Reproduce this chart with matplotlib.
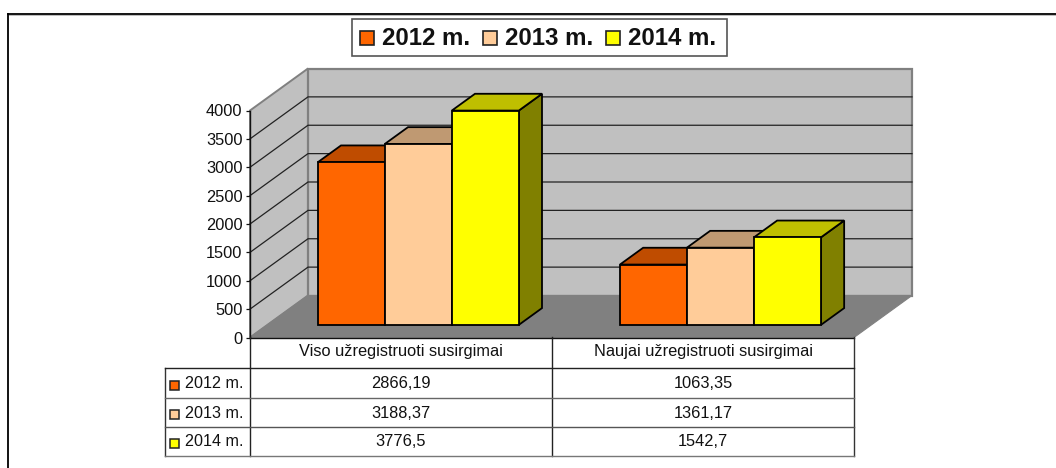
import matplotlib
matplotlib.use("Agg")
import matplotlib.pyplot as plt
from matplotlib.patches import Polygon, Rectangle

plt.rcParams['font.family'] = ['Liberation Sans', 'DejaVu Sans']

categories = ["Viso užregistruoti susirgimai", "Naujai užregistruoti susirgimai"]
years = ["2012 m.", "2013 m.", "2014 m."]
v2012 = [2866.19, 1063.35]
v2013 = [3188.37, 1361.17]
v2014 = [3776.5, 1542.7]
yticks = [0, 500, 1000, 1500, 2000, 2500, 3000, 3500, 4000]

front = ["#FF6600", "#FFCC99", "#FFFF00"]
top = ["#BF4C00", "#BF9972", "#BFBF00"]
side = ["#803300", "#80664D", "#808000"]

W, H = 1056, 468
fig = plt.figure(figsize=(W / 100, H / 100), dpi=100, facecolor="white")

# overlay in pixels for the frame, legend and table
ov = fig.add_axes([0, 0, 1, 1], zorder=3)
ov.set_xlim(0, W)
ov.set_ylim(H, 0)
ov.axis("off")

# chart axes: left edge is the front corner of the 3d box
ax = fig.add_axes([250 / W, (H - 337.5) / H, 604 / W, 227 / H], zorder=2)
ax.set_xlim(0, 2)
ax.set_ylim(0, 4000)
ax.patch.set_visible(False)
ax.set_xticks([])
ax.set_yticks(yticks)
ax.tick_params(axis="y", length=3, width=0.9, pad=2.4, labelsize=11.8, colors="#111111")
for s in ["top", "right"]:
    ax.spines[s].set_visible(False)
for s in ["left", "bottom"]:
    ax.spines[s].set_linewidth(1.0)
    ax.spines[s].set_color("#111111")
    ax.spines[s].set_zorder(20)

# depth of the box in data units
dx = 58 / 302
dy = 42 / 227 * 4000


def poly(pts, fc, ec, lw, z):
    ax.add_patch(Polygon(pts, closed=True, facecolor=fc, edgecolor=ec, linewidth=lw,
                         clip_on=False, zorder=z, joinstyle="miter"))


# walls and floor
poly([(0, 0), (dx, dy), (dx, 4000 + dy), (0, 4000)], "#C0C0C0", "#808080", 1.4, 1)
poly([(dx, dy), (2 + dx, dy), (2 + dx, 4000 + dy), (dx, 4000 + dy)], "#C0C0C0", "#808080", 1.6, 1)
poly([(0, 0), (2, 0), (2 + dx, dy), (dx, dy)], "#808080", "#808080", 0.8, 2)
for t in yticks[1:-1]:
    ax.plot([0, dx, 2 + dx], [t, t + dy, t + dy], color="#222222", lw=0.9, clip_on=False, zorder=3)

# bars
bar_w = 67 / 302
start = [0.2245, 1.2250]
d0, d1 = 0.3, 0.7
series = [v2012, v2013, v2014]
for g in range(2):
    for i, vals in enumerate(series):
        v = vals[g]
        x0 = start[g] + i * bar_w
        x1 = x0 + bar_w
        b = d0 * dy
        b2 = d1 * dy
        ox = (d1 - d0) * dx
        z = 5 + i
        poly([(x1, b), (x1 + ox, b2), (x1 + ox, b2 + v), (x1, b + v)], side[i], "black", 1.3, z)
        poly([(x0, b + v), (x0 + ox, b2 + v), (x1 + ox, b2 + v), (x1, b + v)], top[i], "black", 1.3, z)
        poly([(x0, b), (x1, b), (x1, b + v), (x0, b + v)], front[i], "black", 1.3, z)

# outer frame, only top and left are visible in the picture
ov.plot([8, 8], [H, 14], color="black", lw=1.3)
ov.plot([8, W], [14, 14], color="black", lw=1.3)
ov.plot([9, W], [15.2, 15.2], color="#BBBBBB", lw=0.7)

# legend
ov.add_patch(Rectangle((351.5, 18.5), 375, 37, facecolor="white", edgecolor="#555555", lw=1.2))
leg_key = [360, 483, 606]
leg_txt = [382, 505, 628]
for i, y in enumerate(years):
    ov.add_patch(Rectangle((leg_key[i], 31), 14, 14, facecolor=front[i], edgecolor="#222222", lw=1.2))
    ov.text(leg_txt[i], 38.5, y, fontsize=17.3, fontweight="bold", va="center", ha="left", color="#111111")

# data table
col = [250, 552, 854]
rows = [368, 398, 427, 456]
ov.plot([col[0], col[0]], [337, rows[3]], color="#222222", lw=1.0)
ov.plot([col[1], col[1]], [337, rows[3]], color="#222222", lw=1.0)
ov.plot([col[2], col[2]], [337, rows[3]], color="#333333", lw=1.0)
ov.plot([165, 165], [rows[0], rows[3]], color="#333333", lw=1.0)
ov.plot([165, col[2]], [rows[0], rows[0]], color="#222222", lw=1.0)
ov.plot([165, col[2]], [rows[1], rows[1]], color="#666666", lw=1.0)
ov.plot([165, col[2]], [rows[2], rows[2]], color="#555555", lw=1.0)
ov.plot([165, col[2]], [rows[3], rows[3]], color="#777777", lw=1.0)

for g, c in enumerate(categories):
    ov.text((col[g] + col[g + 1]) / 2, 351.5, c, fontsize=11.8, ha="center", va="center", color="#111111")

row_y = [384, 413, 442]
key_y = [381, 410, 439]
for i, vals in enumerate(series):
    ov.add_patch(Rectangle((170, key_y[i]), 9, 9, facecolor=front[i], edgecolor="#222222", lw=1.1))
    ov.text(185, row_y[i], years[i], fontsize=11.6, ha="left", va="center", color="#111111")
    for g in range(2):
        s = str(vals[g]).replace(".", ",")
        ov.text((col[g] + col[g + 1]) / 2, row_y[i], s, fontsize=11.8, ha="center", va="center", color="#111111")

fig.savefig("out.png", dpi=100, facecolor="white")
